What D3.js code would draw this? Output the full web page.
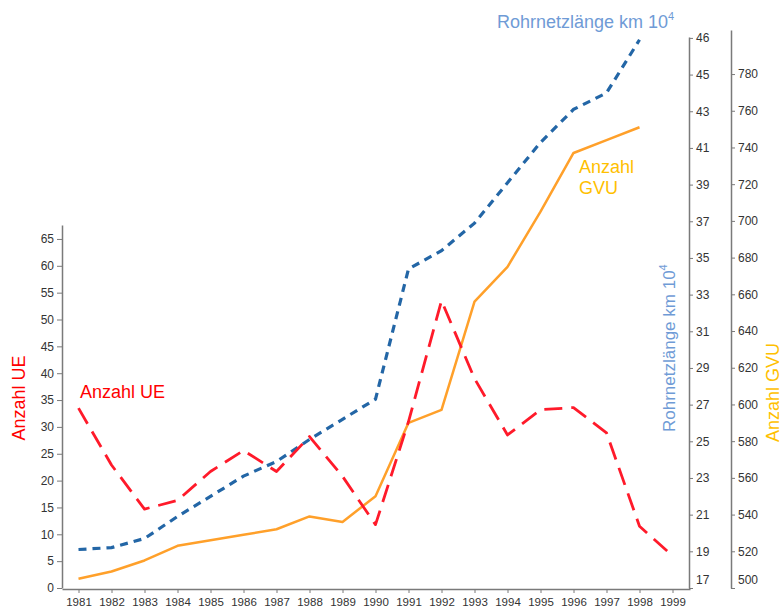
<!DOCTYPE html>
<html>
<head>
<meta charset="utf-8">
<script src="https://cdn.jsdelivr.net/npm/d3@7/dist/d3.min.js"></script>
<style>
	body { margin: 0; background: #fff; }
	svg { display: block; }
	.axis text { font-family: "Liberation Sans Narrow", "Liberation Sans", Arial, sans-serif; fill: #333; }
	.axis path, .axis line { stroke: #7a7a7a; }
</style>
</head>
<body>
<svg id="chart" width="782" height="607"></svg>
<script>
// values
const years = [1981, 1982, 1983, 1984, 1985, 1986, 1987, 1988, 1989, 1990,
	1991, 1992, 1993, 1994, 1995, 1996, 1997, 1998, 1999];

// Anzahl UE (left axis)
const ueValues = [33.5, 22.9, 14.7, 16.3, 21.7, 25.6, 21.7, 28.2, 20.8, 11.8,
	31.0, 53.5, 39.0, 28.5, 33.2, 33.6, 28.9, 11.5, 6.0];

// Rohrnetzlänge km 10^4 (first right axis), 1981..1998
const rohrValues = [19.1, 19.2, 19.7, 20.9, 22.0, 23.1, 23.9, 25.1, 26.2, 27.3,
	34.4, 35.4, 36.9, 39.1, 41.3, 43.1, 44.0, 46.9];

// Anzahl GVU (second right axis), 1981..1998
const gvuValues = [505, 509, 515, 523, 526, 529, 532, 539, 536, 550,
	590, 597, 656, 675, 705, 737, 744, 751];

const ueTicks = [0, 5, 10, 15, 20, 25, 30, 35, 40, 45, 50, 55, 60, 65];
const rohrTicks = [17, 19, 21, 23, 25, 27, 29, 31, 33, 35, 37, 39, 41, 43, 45, 47];
// the top tick of the original is printed "46"
const rohrTickLabels = ["17", "19", "21", "23", "25", "27", "29", "31", "33",
	"35", "37", "39", "41", "43", "45", "46"];
const gvuTicks = [500, 520, 540, 560, 580, 600, 620, 640, 660, 680, 700, 720, 740, 760, 780];

const RED = "#ff1a2a";
const BLUE = "#2366a6";
const ORANGE = "#ffa02a";
const LIGHTBLUE = "#6f9bd6";
const GOLD = "#ffc000";

const svg = d3.select("#chart");

const baseY = 588;

const x = d3.scaleLinear()
	.domain([1980.5, 1999.53])
	.range([62, 690]);

const yUE = d3.scaleLinear()
	.domain([0, 67.6])
	.range([baseY, 225]);

const yRohr = d3.scaleLinear()
	.domain([17, 47.05])
	.range([baseY, 37]);

const yGVU = d3.scaleLinear()
	.domain([500, 804])
	.range([baseY, 30]);

// axes
const xAxis = svg.append("g")
	.attr("class", "axis")
	.attr("transform", "translate(0," + (baseY + 1) + ")")
	.call(d3.axisBottom(x)
		.tickValues(years)
		.tickFormat(d3.format("d"))
		.tickSize(4)
		.tickSizeOuter(0));
xAxis.selectAll("text")
	.attr("font-size", "11.5px")
	.attr("dy", "0.9em");
xAxis.select(".domain").attr("stroke-width", 1.5);

const leftAxis = svg.append("g")
	.attr("class", "axis")
	.attr("transform", "translate(62,0)")
	.call(d3.axisLeft(yUE)
		.tickValues(ueTicks)
		.tickSize(5)
		.tickSizeOuter(0));
leftAxis.selectAll("text").attr("font-size", "12px");
leftAxis.select(".domain").attr("stroke-width", 1.5);

const rohrAxis = svg.append("g")
	.attr("class", "axis")
	.attr("transform", "translate(689,0)")
	.call(d3.axisRight(yRohr)
		.tickValues(rohrTicks)
		.tickFormat(function(d, i) { return rohrTickLabels[i]; })
		.tickSize(4)
		.tickSizeOuter(0));
rohrAxis.selectAll("text").attr("font-size", "12px");
rohrAxis.select(".domain").attr("stroke-width", 1.5);

const gvuAxis = svg.append("g")
	.attr("class", "axis")
	.attr("transform", "translate(731,0)")
	.call(d3.axisRight(yGVU)
		.tickValues(gvuTicks)
		.tickSize(4)
		.tickSizeOuter(0));
gvuAxis.selectAll("text").attr("font-size", "12px");
gvuAxis.select(".domain").attr("stroke-width", 1.5);

// bottom labels of the right axes sit above the base line
rohrAxis.selectAll(".tick text").filter(function(d) { return d === 17; })
	.attr("transform", "translate(0,-8)");
gvuAxis.selectAll(".tick text").filter(function(d) { return d === 500; })
	.attr("transform", "translate(0,-8)");

// lines
const ueLine = d3.line()
	.x(function(d, i) { return x(years[i]); })
	.y(function(d) { return yUE(d); });

const rohrLine = d3.line()
	.x(function(d, i) { return x(years[i]); })
	.y(function(d) { return yRohr(d); });

const gvuLine = d3.line()
	.x(function(d, i) { return x(years[i]); })
	.y(function(d) { return yGVU(d); });

svg.append("path")
	.datum(gvuValues)
	.attr("fill", "none")
	.attr("stroke", ORANGE)
	.attr("stroke-width", 2.5)
	.attr("stroke-linejoin", "round")
	.attr("d", gvuLine);

svg.append("path")
	.datum(rohrValues)
	.attr("fill", "none")
	.attr("stroke", BLUE)
	.attr("stroke-width", 3.2)
	.attr("stroke-dasharray", "8,6")
	.attr("d", rohrLine);

svg.append("path")
	.datum(ueValues)
	.attr("fill", "none")
	.attr("stroke", RED)
	.attr("stroke-width", 2.8)
	.attr("stroke-dasharray", "18,9")
	.attr("stroke-linejoin", "round")
	.attr("d", ueLine);

// titles and labels
const font = "'Liberation Sans', Arial, sans-serif";

svg.append("text")
	.attr("transform", "translate(25,398) rotate(-90)")
	.attr("text-anchor", "middle")
	.attr("font-family", font)
	.attr("font-size", "18px")
	.attr("fill", "#ff0000")
	.text("Anzahl UE");

svg.append("text")
	.attr("x", 80)
	.attr("y", 398)
	.attr("font-family", font)
	.attr("font-size", "18px")
	.attr("fill", "#ff0000")
	.text("Anzahl UE");

const topTitle = svg.append("text")
	.attr("x", 497)
	.attr("y", 28)
	.attr("font-family", font)
	.attr("font-size", "18px")
	.attr("fill", LIGHTBLUE)
	.text("Rohrnetzlänge km 10");
topTitle.append("tspan")
	.attr("font-size", "11px")
	.attr("dy", "-8")
	.text("4");

const sideTitle = svg.append("text")
	.attr("transform", "translate(675,432) rotate(-90)")
	.attr("font-family", font)
	.attr("font-size", "17px")
	.attr("fill", LIGHTBLUE)
	.text("Rohrnetzlänge km 10");
sideTitle.append("tspan")
	.attr("font-size", "11px")
	.attr("dy", "-8")
	.text("4");

svg.append("text")
	.attr("transform", "translate(779,442) rotate(-90)")
	.attr("font-family", font)
	.attr("font-size", "18px")
	.attr("fill", GOLD)
	.text("Anzahl GVU");

const gvuLabel = svg.append("text")
	.attr("font-family", font)
	.attr("font-size", "18px")
	.attr("fill", GOLD);
gvuLabel.append("tspan").attr("x", 579).attr("y", 173).text("Anzahl");
gvuLabel.append("tspan").attr("x", 579).attr("y", 194).text("GVU");
</script>
</body>
</html>
